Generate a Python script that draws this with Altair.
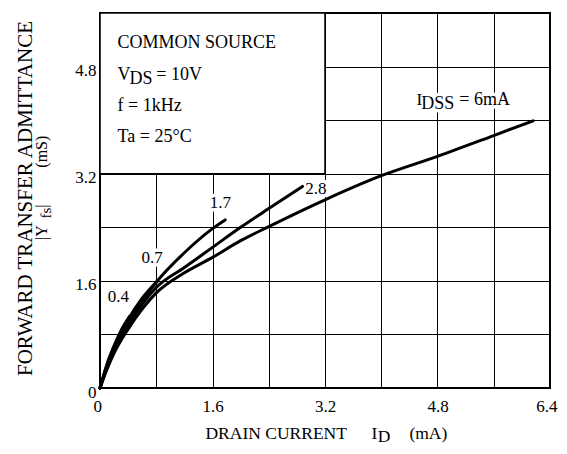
import altair as alt
import pandas as pd

FONT = "Liberation Serif"

# I_DSS curves: drain current (mA) vs |Yfs| (mS)
x04 = [0, 0.1, 0.2, 0.3, 0.42]
y04 = [0, 0.36, 0.63, 0.86, 1.07]
x07 = [0, 0.1, 0.2, 0.4, 0.6, 0.82]
y07 = [0, 0.34, 0.61, 1.02, 1.34, 1.6]
x17 = [0, 0.1, 0.2, 0.4, 0.8, 1.2, 1.6, 1.78]
y17 = [0, 0.32, 0.58, 0.98, 1.58, 2.02, 2.38, 2.51]
x28 = [0, 0.1, 0.2, 0.4, 0.8, 1.2, 1.6, 2.0, 2.4, 2.88]
y28 = [0, 0.3, 0.55, 0.93, 1.5, 1.8, 2.1, 2.4, 2.68, 3.01]
x60 = [0, 0.1, 0.2, 0.4, 0.8, 1.2, 1.6, 2.0, 2.4, 3.2, 4.0, 4.8, 5.6, 6.16]
y60 = [0, 0.28, 0.52, 0.88, 1.42, 1.72, 1.95, 2.2, 2.41, 2.81, 3.17, 3.46, 3.77, 3.99]

series = [("0.4", x04, y04), ("0.7", x07, y07), ("1.7", x17, y17),
          ("2.8", x28, y28), ("6", x60, y60)]

grid_vals = [0, 0.8, 1.6, 2.4, 3.2, 4.0, 4.8, 5.6, 6.4]

# curve labels (with white halo)
lab_text = ["0.4", "0.7", "1.7", "2.8", "I", "DSS", "= 6mA"]
lab_x = [0.11, 0.59, 1.56, 2.92, 4.50, 4.57, 5.11]
lab_y = [1.29, 1.87, 2.69, 2.90, 4.23, 4.17, 4.23]
lab_s = [17, 17, 17, 17, 17, 18, 18]

# condition box text + x title
box_text = ["COMMON SOURCE", "V", "DS", "= 10V", "f = 1kHz", "Ta = 25°C",
            "DRAIN CURRENT", "I", "D", "(mA)"]
box_x = [0.25, 0.25, 0.42, 0.80, 0.25, 0.25, 1.50, 3.86, 3.95, 4.40]
box_y = [5.08, 4.60, 4.54, 4.60, 4.14, 3.67, -0.76, -0.76, -0.805, -0.76]
box_s = [18, 18, 18, 18, 18, 18, 17.5, 17.5, 17.5, 17.5]

# y title pieces (rotated)
yt_text = ["|Y", "fs", "|", "(mS)"]
yt_x = [-0.75, -0.69, -0.75, -0.75]
yt_y = [2.21, 2.53, 2.69, 3.29]
yt_s = [16, 15, 16, 16]

rows = []
for name, xs, ys in series:
    for i, (a, b) in enumerate(zip(xs, ys)):
        rows.append({"idss": name, "id": a, "yfs": b, "i": i})
df = pd.DataFrame(rows)

xscale = alt.Scale(domain=[0, 6.4], nice=False, zero=False)
yscale = alt.Scale(domain=[0, 5.6], nice=False, zero=False)

xaxis = alt.Axis(values=grid_vals, grid=True, gridColor="black", gridOpacity=1,
                 gridWidth=1, ticks=False, domain=False, title=None,
                 labelFont=FONT, labelFontSize=17, labelColor="black",
                 labelPadding=10, labelFlush=True, labelFlushOffset=7,
                 labelOverlap=False,
                 labelExpr="abs(datum.value/1.6 - round(datum.value/1.6)) < 0.01 ? (datum.value == 0 ? '0' : format(datum.value, '.1f')) : ''")
yaxis = alt.Axis(values=grid_vals[:-1], grid=True, gridColor="black", gridOpacity=1,
                 gridWidth=1, ticks=False, domain=False, title=None,
                 labelFont=FONT, labelFontSize=17, labelColor="black",
                 labelPadding=4, labelOffset=4, labelFlush=False, labelOverlap=False,
                 labelExpr="(abs(datum.value/1.6 - round(datum.value/1.6)) < 0.01 && datum.value < 5.5) ? (datum.value == 0 ? '0' : format(datum.value, '.1f')) : ''")


def X(field):
    return alt.X(field, scale=xscale, axis=xaxis)


def Y(field):
    return alt.Y(field, scale=yscale, axis=yaxis)


box_df = pd.DataFrame({"x": [0], "x2": [3.2], "y": [3.2], "y2": [5.6]})
box = alt.Chart(box_df).mark_rect(fill="white", stroke="black", strokeWidth=1.5).encode(
    x=X("x:Q"), x2="x2:Q", y=Y("y:Q"), y2="y2:Q",
)

lab_df = pd.DataFrame({"t": lab_text, "x": lab_x, "y": lab_y, "s": lab_s})
halo = alt.Chart(lab_df).mark_text(align="left", baseline="alphabetic", font=FONT,
                                   fill="white", stroke="white", strokeWidth=7,
                                   strokeJoin="round").encode(
    x=X("x:Q"), y=Y("y:Q"), text="t:N",
    size=alt.Size("s:Q", scale=None, legend=None),
)

lines = alt.Chart(df).mark_line(color="black", strokeWidth=3, interpolate="monotone",
                                strokeCap="round").encode(
    x=X("id:Q"), y=Y("yfs:Q"), detail="idss:N", order="i:Q",
)

labels = alt.Chart(lab_df).mark_text(align="left", baseline="alphabetic", font=FONT,
                                     color="black").encode(
    x=X("x:Q"), y=Y("y:Q"), text="t:N",
    size=alt.Size("s:Q", scale=None, legend=None),
)

bt_df = pd.DataFrame({"t": box_text, "x": box_x, "y": box_y, "s": box_s})
btext = alt.Chart(bt_df).mark_text(align="left", baseline="alphabetic", font=FONT,
                                   color="black").encode(
    x=X("x:Q"), y=Y("y:Q"), text="t:N",
    size=alt.Size("s:Q", scale=None, legend=None),
)

yt1_df = pd.DataFrame({"t": ["FORWARD TRANSFER ADMITTANCE"], "x": [-0.97], "y": [2.83]})
yt1 = alt.Chart(yt1_df).mark_text(angle=270, align="center", baseline="alphabetic",
                                  font=FONT, fontSize=21, color="black").encode(
    x=X("x:Q"), y=Y("y:Q"), text="t:N",
)

yt_df = pd.DataFrame({"t": yt_text, "x": yt_x, "y": yt_y, "s": yt_s})
yt2 = alt.Chart(yt_df).mark_text(angle=270, align="left", baseline="alphabetic",
                                 font=FONT, color="black").encode(
    x=X("x:Q"), y=Y("y:Q"), text="t:N",
    size=alt.Size("s:Q", scale=None, legend=None),
)

chart = alt.layer(box, halo, lines, labels, btext, yt1, yt2).properties(
    width=450, height=375,
    autosize=alt.AutoSizeParams(type="none"),
    padding={"left": 92, "top": 5, "right": 9, "bottom": 57},
    background="white",
).configure_view(stroke="black", strokeWidth=2)

chart.save("out.html", embed_options={"renderer": "svg", "actions": False})
